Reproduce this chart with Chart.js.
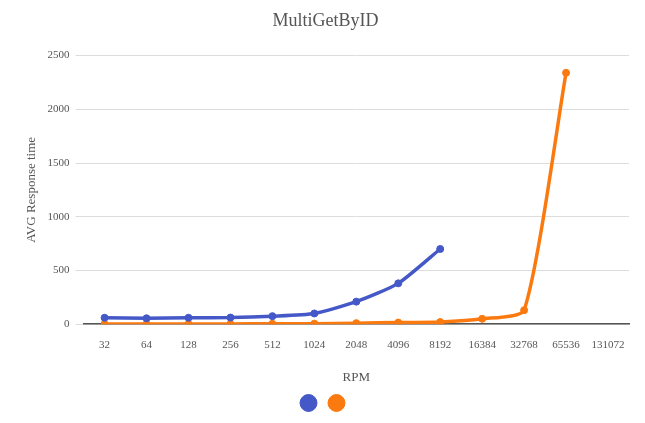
<!DOCTYPE html>
<html>
<head>
<script src="https://cdn.jsdelivr.net/npm/chart.js@4"></script>
<style>
  body { margin: 0; background: #fff; }
  #wrap { width: 645px; height: 423px; }
</style>
</head>
<body>
<div id="wrap"><canvas id="chart"></canvas></div>
<script>
// RPM categories and average response times
const rpm = ['32', '64', '128', '256', '512', '1024', '2048', '4096', '8192', '16384', '32768', '65536', '131072'];
const seriesA = [60, 55, 60, 62, 75, 100, 210, 380, 700, null, null, null, null];
const seriesB = [2, 2, 3, 3, 4, 5, 10, 15, 20, 50, 130, 2340, null];
const yTicks = [0, 500, 1000, 1500, 2000, 2500];

const font = 'Liberation Serif';

new Chart(document.getElementById('chart'), {
  type: 'line',
  data: {
    labels: rpm,
    datasets: [
      {
        label: '',
        data: seriesA,
        borderColor: '#4558c8',
        backgroundColor: '#4558c8',
        borderWidth: 3.5,
        pointRadius: 3.5,
        pointBorderWidth: 1,
        tension: 0.2,
      },
      {
        label: '',
        data: seriesB,
        borderColor: '#fb7a10',
        backgroundColor: '#fb7a10',
        borderWidth: 3.5,
        pointRadius: 3.5,
        pointBorderWidth: 1,
        tension: 0.2,
      },
    ],
  },
  options: {
    responsive: true,
    maintainAspectRatio: false,
    animation: false,
    layout: { padding: { left: 22, right: 16, top: 6, bottom: 4 } },
    plugins: {
      title: {
        display: true,
        text: 'MultiGetByID',
        color: '#555',
        font: { family: font, size: 18, weight: 'normal' },
        padding: { top: 4, bottom: 24 },
      },
      legend: {
        position: 'bottom',
        labels: { usePointStyle: true, pointStyle: 'circle', boxWidth: 13, boxHeight: 13, padding: 10 },
      },
      tooltip: { enabled: false },
    },
    scales: {
      x: {
        offset: true,
        grid: { display: false },
        border: { color: '#555', width: 1.5 },
        ticks: { color: '#555', font: { family: font, size: 11 }, maxRotation: 0, padding: 6 },
        title: { display: true, text: 'RPM', color: '#555', font: { family: font, size: 13 }, padding: { top: 12, bottom: 2 } },
      },
      y: {
        min: 0,
        max: 2500,
        afterBuildTicks: axis => { axis.ticks = yTicks.map(v => ({ value: v })); },
        grid: { color: '#ddd' },
        border: { display: false },
        ticks: { color: '#555', font: { family: font, size: 11 }, padding: 6, callback: v => String(v) },
        title: { display: true, text: 'AVG Response time', color: '#555', font: { family: font, size: 13 }, padding: 2 },
      },
    },
  },
});
</script>
</body>
</html>
